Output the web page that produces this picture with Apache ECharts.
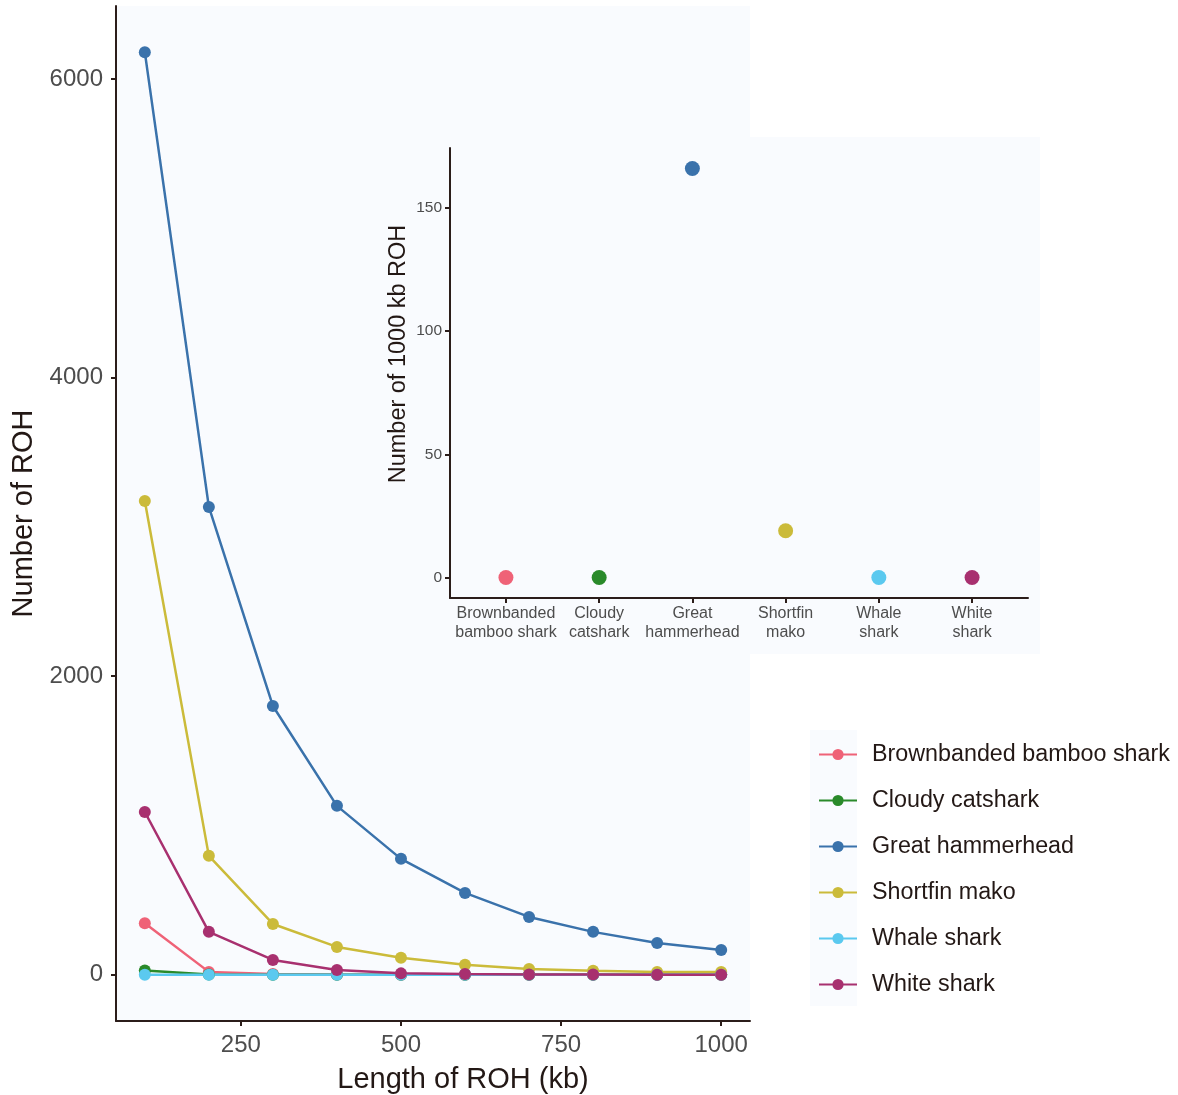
<!DOCTYPE html>
<html>
<head>
<meta charset="utf-8">
<script src="https://cdn.jsdelivr.net/npm/echarts@6/dist/echarts.min.js"></script>
<style>
  html, body { margin: 0; padding: 0; background: #ffffff; }
  #main { width: 1178px; height: 1095px; }
</style>
</head>
<body>
<div id="main"></div>
<script>
// ROH length bins (kb)
const lengths = [100, 200, 300, 400, 500, 600, 700, 800, 900, 1000];
const species = ["Brownbanded bamboo shark", "Cloudy catshark", "Great hammerhead",
                 "Shortfin mako", "Whale shark", "White shark"];
const speciesColors = ["#ef6277", "#2a8a2a", "#3a72ab", "#cbbb3a", "#5bc9ef", "#a8306f"];

// number of ROH per bin, one array per species
const brownbanded = [346, 20, 5, 2, 1, 0, 0, 0, 0, 0];
const cloudy = [29, 3, 1, 0, 0, 0, 0, 0, 0, 0];
const hammerhead = [6180, 3134, 1801, 1132, 777, 549, 388, 288, 214, 166];
const mako = [3174, 797, 341, 187, 114, 67, 40, 27, 20, 19];
const whale = [0, 0, 0, 0, 0, 0, 0, 0, 0, 0];
const white = [1091, 288, 100, 33, 10, 5, 3, 2, 1, 0];
const seriesValues = [brownbanded, cloudy, hammerhead, mako, whale, white];

// inset: number of 1000 kb ROH
const insetLabels = ["Brownbanded\nbamboo shark", "Cloudy\ncatshark", "Great\nhammerhead",
                     "Shortfin\nmako", "Whale\nshark", "White\nshark"];
const insetValues = [0, 0, 166, 19, 0, 0];

const mainXTicks = [250, 500, 750, 1000];
const mainYTicks = [0, 2000, 4000, 6000];
const insetYTicks = [0, 50, 100, 150];

const FONT = "Liberation Sans, Arial, Helvetica, sans-serif";
const AXIS_COLOR = "#2b1d1a";
const LABEL_COLOR = "#4d4d4d";
const TITLE_COLOR = "#231815";
const PANEL_BG = "#f9fbfe";

const chart = echarts.init(document.getElementById("main"), null, { renderer: "canvas" });

function axisBase(ticks, fontSize) {
  return {
    z: 5,
    axisLine: { show: true, onZero: false, lineStyle: { color: AXIS_COLOR, width: 2 } },
    axisTick: { show: true, customValues: ticks, length: 5, lineStyle: { color: AXIS_COLOR, width: 2 } },
    axisLabel: {
      customValues: ticks, color: LABEL_COLOR, fontSize: fontSize, fontFamily: FONT,
      formatter: (v) => String(v),
    },
    splitLine: { show: false },
  };
}

const lineSeries = species.map((name, i) => ({
  name: name,
  type: "line",
  xAxisIndex: 0,
  yAxisIndex: 0,
  data: lengths.map((l, j) => [l, seriesValues[i][j]]),
  symbol: "circle",
  symbolSize: 12,
  showSymbol: true,
  lineStyle: { width: 2.5, color: speciesColors[i] },
  itemStyle: { color: speciesColors[i] },
  z: 3,
}));

const insetSeries = {
  name: "inset",
  type: "scatter",
  xAxisIndex: 1,
  yAxisIndex: 1,
  symbolSize: 15,
  data: insetValues.map((v, i) => ({
    value: [i, v],
    itemStyle: { color: speciesColors[i], opacity: 1 },
  })),
  z: 6,
};

const option = {
  backgroundColor: "#ffffff",
  animation: false,
  textStyle: { fontFamily: FONT },
  graphic: [
    {
      type: "rect",
      shape: { x: 360, y: 137, width: 680, height: 517 },
      style: { fill: PANEL_BG },
      z: 1,
    },
    {
      type: "rect",
      shape: { x: 810, y: 730, width: 47, height: 276 },
      style: { fill: PANEL_BG },
      z: 1,
    },
  ],
  grid: [
    { left: 116, right: 428, top: 6, bottom: 74, show: true, backgroundColor: PANEL_BG, borderWidth: 0,
      containLabel: false, outerBoundsMode: "none" },
    { left: 450, right: 150, top: 148, bottom: 497, containLabel: false, outerBoundsMode: "none" },
  ],
  legend: {
    data: species,
    orient: "vertical",
    left: 813,
    top: 737,
    itemWidth: 38,
    itemHeight: 14,
    itemGap: 21,
    z: 5,
    textStyle: { fontSize: 23.3, color: TITLE_COLOR, fontFamily: FONT, lineHeight: 25, padding: [0, 0, 0, 10] },
  },
  xAxis: [
    Object.assign(axisBase(mainXTicks, 24), {
      type: "value",
      gridIndex: 0,
      min: 55,
      max: 1045,
      name: "Length of ROH (kb)",
      nameLocation: "middle",
      nameGap: 44,
      nameTextStyle: { fontSize: 29, color: TITLE_COLOR, fontFamily: FONT, padding: [0, 0, 0, 60] },
    }),
    Object.assign(axisBase([0, 1, 2, 3, 4, 5], 16), {
      type: "value",
      gridIndex: 1,
      min: -0.6,
      max: 5.6,
    }),
  ],
  yAxis: [
    Object.assign(axisBase(mainYTicks, 24), {
      type: "value",
      gridIndex: 0,
      min: -309,
      max: 6489,
      name: "Number of ROH",
      nameLocation: "middle",
      nameGap: 76,
      nameRotate: 90,
      nameTextStyle: { fontSize: 29, color: TITLE_COLOR, fontFamily: FONT },
    }),
    Object.assign(axisBase(insetYTicks, 15.5), {
      type: "value",
      gridIndex: 1,
      min: -8.3,
      max: 174.3,
      name: "Number of 1000 kb ROH",
      nameLocation: "middle",
      nameGap: 39,
      nameRotate: 90,
      nameTextStyle: { fontSize: 23.5, color: TITLE_COLOR, fontFamily: FONT, padding: [0, 0, 0, 38] },
    }),
  ],
  series: lineSeries.concat([insetSeries]),
};

// inset category labels
option.xAxis[1].axisLabel.formatter = (v) => insetLabels[Math.round(v)];
option.xAxis[1].axisLabel.lineHeight = 19;
option.xAxis[1].axisLabel.margin = 6;
option.xAxis[0].axisLabel.margin = 12;
option.yAxis[0].axisLabel.margin = 13;
option.yAxis[1].axisLabel.margin = 8;

chart.setOption(option);
</script>
</body>
</html>
